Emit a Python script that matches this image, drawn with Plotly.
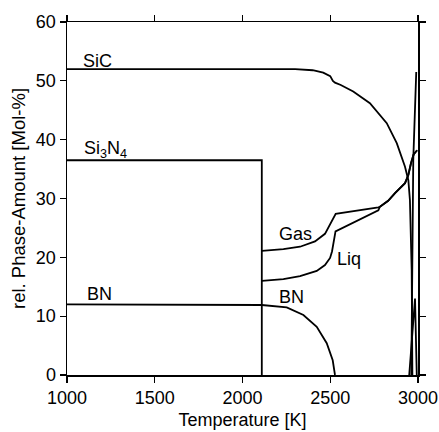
import plotly.graph_objects as go

# ---- data (Temperature [K], rel. phase amount [Mol-%]) ----
sic_T = [1000, 2300, 2400, 2460, 2500, 2515, 2527, 2560, 2631, 2726, 2822, 2879, 2926, 2945, 2954, 2964, 2968]
sic_y = [52.0, 52.0, 51.8, 51.4, 50.8, 50.0, 49.7, 49.3, 48.2, 46.2, 42.8, 39.4, 35.4, 33.1, 29.7, 17.8, 0.0]

si3n4_T = [1000, 2110, 2110]
si3n4_y = [36.5, 36.5, 0.0]

bn_T = [1000, 2110, 2252, 2347, 2423, 2480, 2514, 2527]
bn_y = [12.0, 11.9, 11.5, 10.2, 8.2, 5.4, 2.5, 0.0]

gas_T = [2110, 2233, 2328, 2413, 2470, 2499, 2518, 2531, 2774, 2783, 2830, 2869, 2926, 2945, 2960, 2975, 2995]
gas_y = [21.1, 21.4, 21.8, 22.7, 24.0, 25.5, 26.5, 27.4, 28.5, 28.6, 29.6, 30.9, 32.6, 34.0, 36.0, 37.5, 38.2]

liq_T = [2110, 2233, 2328, 2423, 2470, 2499, 2510, 2520, 2530, 2774, 2783, 2830, 2869, 2926, 2945, 2960, 2975, 2995]
liq_y = [16.0, 16.3, 16.8, 17.7, 18.7, 19.9, 21.0, 22.5, 24.4, 28.0, 28.6, 29.6, 30.9, 32.6, 34.0, 36.0, 37.5, 38.2]

c_T = [2962, 2968, 2973, 2990]
c_y = [0.0, 20.0, 36.5, 51.5]

spike_T = [2950, 2983, 2993]
spike_y = [0.0, 13.0, 0.0]

labels = ["SiC", "Si<sub>3</sub>N<sub>4</sub>", "BN", "Gas", "Liq", "BN"]
label_T = [1080, 1085, 1103, 2197, 2527, 2197]
label_y = [53.4, 38.4, 13.7, 24.0, 19.8, 13.2]

x_ticks = [1000, 1500, 2000, 2500, 3000]
y_ticks = [0, 10, 20, 30, 40, 50, 60]

FONT = "Liberation Sans, Arial, sans-serif"

fig = go.Figure()
line_style = dict(color="black", width=1.8)
for T, y in [(sic_T, sic_y), (si3n4_T, si3n4_y), (bn_T, bn_y), (gas_T, gas_y),
             (liq_T, liq_y), (c_T, c_y), (spike_T, spike_y)]:
    fig.add_trace(go.Scatter(x=T, y=y, mode="lines", line=line_style,
                             showlegend=False, hoverinfo="skip"))

for txt, tx, ty in zip(labels, label_T, label_y):
    fig.add_annotation(x=tx, y=ty, xref="x", yref="y", text=txt, showarrow=False,
                       xanchor="left", yanchor="middle",
                       font=dict(family=FONT, size=18, color="black"))

axis_common = dict(showline=True, linecolor="black", linewidth=1.5, mirror="ticks",
                   ticks="outside", ticklen=6, tickwidth=1.3, tickcolor="black",
                   showgrid=False, zeroline=False,
                   tickfont=dict(family=FONT, size=18, color="black"))

fig.update_xaxes(range=[1000, 3000], tickvals=x_ticks,
                 title=dict(text="Temperature [K]", font=dict(family=FONT, size=18, color="black"),
                            standoff=6),
                 **axis_common)
fig.update_yaxes(range=[0, 60], tickvals=y_ticks,
                 title=dict(text="rel. Phase-Amount [Mol-%]", font=dict(family=FONT, size=18.5, color="black"),
                            standoff=5),
                 **axis_common)

fig.update_layout(width=439, height=432, margin=dict(l=67, r=21, t=22, b=57, autoexpand=False),
                  plot_bgcolor="white", paper_bgcolor="white",
                  font=dict(family=FONT, color="black"))

fig.write_html("out.html",
               config={"displayModeBar": False, "staticPlot": True},
               post_script="document.body.style.margin='0';document.body.style.overflow='hidden';")
